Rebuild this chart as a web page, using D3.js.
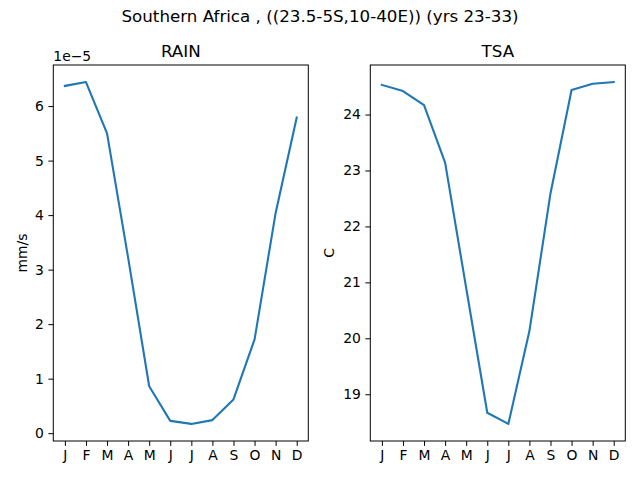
<!DOCTYPE html>
<html>
<head>
<meta charset="utf-8">
<script src="https://cdn.jsdelivr.net/npm/d3@7"></script>
<style>
  body { margin: 0; background: #fff; }
  svg { font-family: "DejaVu Sans", sans-serif; }
</style>
</head>
<body>
<div id="chart"></div>
<script>
// month labels
const months = ["J","F","M","A","M","J","J","A","S","O","N","D"];
// RAIN in units of 1e-5 mm/s
const rain = [6.37, 6.44, 5.50, 3.22, 0.86, 0.225, 0.17, 0.24, 0.62, 1.72, 4.04, 5.79];
// TSA in C
const tsa = [24.53, 24.42, 24.17, 23.14, 20.90, 18.67, 18.47, 20.13, 22.59, 24.44, 24.55, 24.58];
const rainTicks = [0, 1, 2, 3, 4, 5, 6];
const tsaTicks = [19, 20, 21, 22, 23, 24];

const w = 640, h = 480;
const plotTop = 65, plotBottom = 441;
const color = "#1f77b4";

const svg = d3.select("#chart").append("svg")
  .attr("width", w).attr("height", h);

svg.append("rect").attr("width", w).attr("height", h).attr("fill", "#fff");

svg.append("text")
  .attr("x", 320).attr("y", 22)
  .attr("text-anchor", "middle")
  .style("font-size", "16.7px")
  .text("Southern Africa , ((23.5-5S,10-40E)) (yrs 23-33)");

// pad domain by 5% like matplotlib
function padded(vals) {
  const lo = d3.min(vals), hi = d3.max(vals);
  const m = (hi - lo) * 0.05;
  return [lo - m, hi + m];
}

function panel(left, right, data, ticks, title, ylabel, ylabelX, offsetText) {
  const g = svg.append("g");
  const x = d3.scaleLinear().domain([-0.55, 11.55]).range([left, right]);
  const y = d3.scaleLinear().domain(padded(data)).range([plotBottom, plotTop]);

  const xAxis = d3.axisBottom(x)
    .tickValues(d3.range(12))
    .tickFormat(i => months[i])
    .tickSizeOuter(0).tickSize(4.9).tickPadding(4.5);
  const gx = g.append("g")
    .attr("transform", "translate(0," + plotBottom + ")")
    .call(xAxis);

  const yAxis = d3.axisLeft(y)
    .tickValues(ticks)
    .tickFormat(d3.format("d"))
    .tickSizeOuter(0).tickSize(4.9).tickPadding(4.5);
  const gy = g.append("g")
    .attr("transform", "translate(" + left + ",0)")
    .call(yAxis);

  [gx, gy].forEach(a => {
    a.select(".domain").remove();
    a.selectAll("text").style("font-size", "13.9px").attr("fill", "#000")
      .style("font-family", "DejaVu Sans, sans-serif");
    a.selectAll("line").attr("stroke", "#000").attr("stroke-width", 1);
  });

  const line = d3.line()
    .x((d, i) => x(i))
    .y(d => y(d));

  g.append("path")
    .datum(data)
    .attr("d", line)
    .attr("fill", "none")
    .attr("stroke", color)
    .attr("stroke-width", 2.1)
    .attr("stroke-linejoin", "round")
    .attr("stroke-linecap", "square");

  g.append("rect")
    .attr("x", left).attr("y", plotTop)
    .attr("width", right - left).attr("height", plotBottom - plotTop)
    .attr("fill", "none").attr("stroke", "#000").attr("stroke-width", 1);

  g.append("text")
    .attr("x", (left + right) / 2).attr("y", plotTop - 8)
    .attr("text-anchor", "middle")
    .style("font-size", "16.7px")
    .text(title);

  g.append("text")
    .attr("transform", "translate(" + ylabelX + "," + ((plotTop + plotBottom) / 2) + ") rotate(-90)")
    .attr("text-anchor", "middle")
    .style("font-size", "13.9px")
    .text(ylabel);

  if (offsetText) {
    g.append("text")
      .attr("x", left).attr("y", plotTop - 4)
      .style("font-size", "13.9px")
      .text(offsetText);
  }
}

panel(53.3, 308.3, rain, rainTicks, "RAIN", "mm/s", 27, "1e\u22125");
panel(370.3, 625.3, tsa, tsaTicks, "TSA", "C", 334, null);
</script>
</body>
</html>
